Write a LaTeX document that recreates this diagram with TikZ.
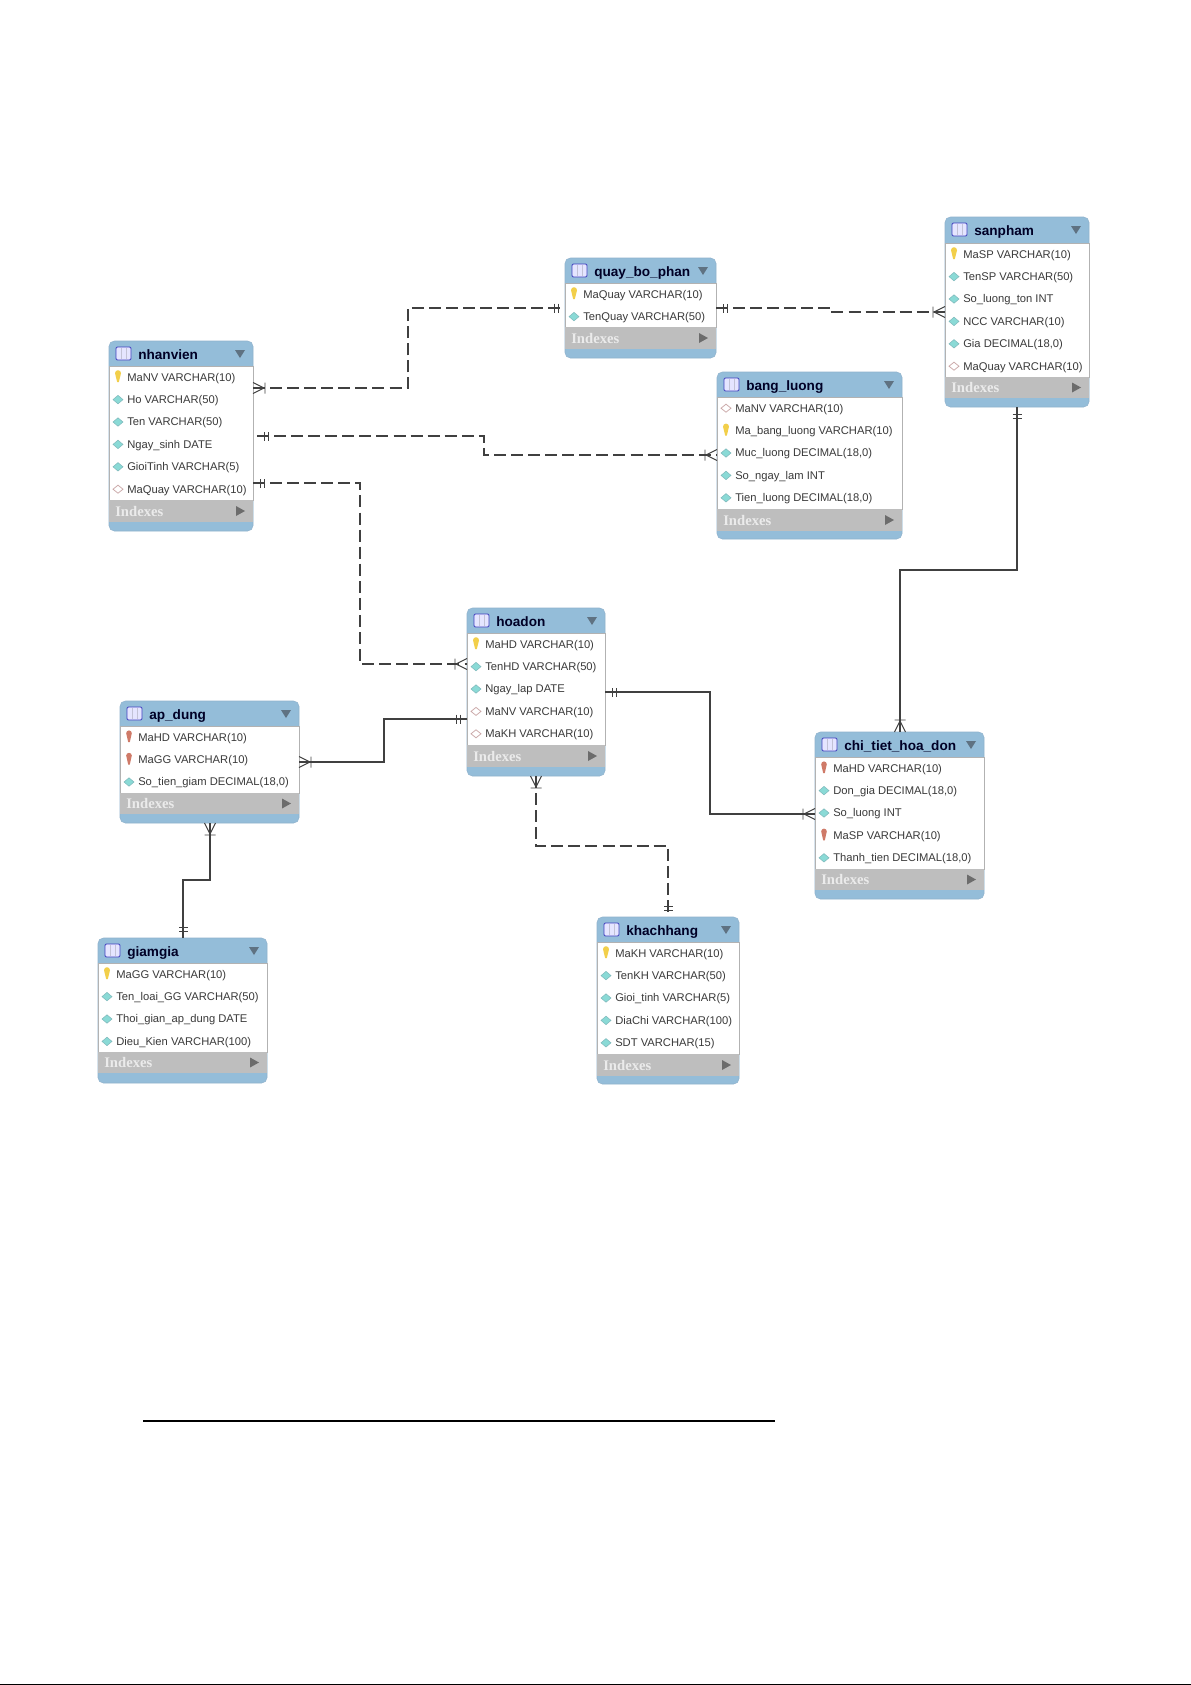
\documentclass[tikz,border=0pt]{standalone}
\usepackage{fontspec}
\setmainfont{Liberation Sans}
\newfontfamily\idxfont{Liberation Serif}
\usetikzlibrary{calc}
\definecolor{hdrblue}{HTML}{94BDD9}
\definecolor{edgeblue}{HTML}{8FB2CC}
\definecolor{idxgrey}{HTML}{BEBEBE}
\definecolor{txtgrey}{HTML}{3A3A3A}
\definecolor{arrowgrey}{HTML}{5F7282}
\definecolor{connink}{HTML}{404040}
\definecolor{keyyellow}{HTML}{F2CF4A}
\definecolor{keyred}{HTML}{CF7A68}
\definecolor{diacyan}{HTML}{8ADAD6}
\definecolor{diaedge}{HTML}{7FB9BC}
\definecolor{diapink}{HTML}{C9A6A6}
\tikzset{
  tblbody/.style={rectangle,rounded corners=4pt,fill=hdrblue,draw=edgeblue,line width=.4pt,inner sep=0pt,outer sep=0pt},
  rowtext/.style={anchor=west,inner sep=0pt,font=\fontsize{8.4pt}{10pt}\selectfont,text=txtgrey,text height=6.2pt,text depth=1.8pt},
  titletext/.style={anchor=west,inner sep=0pt,font=\fontsize{10.2pt}{12pt}\selectfont\bfseries,text=black!85!blue,text height=7.6pt,text depth=2.2pt},
  idxtext/.style={anchor=west,inner sep=0pt,font=\idxfont\fontsize{11pt}{13pt}\selectfont\bfseries,text=white!92!black,text height=7pt,text depth=1pt},
  conn/.style={draw=connink,line width=.85pt},
  fk/.style={conn,dash pattern=on 9pt off 3.8pt},
  endmark/.style={draw=connink,line width=.7pt,solid},
  icok/.pic={\fill[keyyellow] (-3,-4) arc[start angle=180,end angle=360,radius=3] -- (.8,5) -- (-.8,5) -- cycle;},
  icof/.pic={\fill[keyred] (-2.8,-4) arc[start angle=180,end angle=360,radius=2.8] -- (.8,5) -- (-.8,5) -- cycle;},
  icoc/.pic={\filldraw[fill=diacyan,draw=diaedge,line width=.4pt] (-5,0) -- (0,-4.2) -- (5,0) -- (0,4.2) -- cycle;},
  icoe/.pic={\filldraw[fill=white,draw=diapink,line width=.55pt] (-5,0) -- (0,-4) -- (5,0) -- (0,4) -- cycle;},
}
% name, x1, y1, x2, header bottom, rows bottom, indexes bottom, bottom, rows
\newcommand\ertable[9]{
  \node[tblbody,minimum width={(#4-#2)*.75pt},minimum height={(#8-#3)*.75pt}] (#1) at ({(#2+#4)/2},{(#3+#8)/2}) {};
  \filldraw[fill=white,draw=gray!60,line width=.35pt] (#2,#5) rectangle (#4,#6);
  \fill[idxgrey] (#2,#6) rectangle (#4,#7);
  \filldraw[fill=blue!10!white,draw=blue!50!gray,line width=.65pt,rounded corners=1pt] (#2+7,#3+6) rectangle (#2+22,#3+19);
  \draw[blue!20!gray!40!white,line width=.4pt] (#2+12,#3+7) -- (#2+12,#3+18) (#2+17,#3+7) -- (#2+17,#3+18);
  \node[titletext] (#1-title) at (#2+29,#3+14.5) {\detokenize{#1}};
  \fill[arrowgrey] (#4-18,#3+9) -- (#4-8,#3+9) -- (#4-13,#3+17) -- cycle;
  \foreach \k/\t [count=\i] in {#9} {
    \pgfmathsetmacro\ry{#5+(\i-.5)*22.4}
    \pic at (#2+9,\ry) {ico\k};
    \node[rowtext] (#1-row\i) at (#2+18,\ry+1) {\t};
  }
  \node[idxtext] (#1-idx) at (#2+6,{(#6+#7)/2+1}) {Indexes};
  \fill[gray!85!black] (#4-17,{(#6+#7)/2-5}) -- (#4-8,{(#6+#7)/2}) -- (#4-17,{(#6+#7)/2+5}) -- cycle;
}
% crow's foot and double bar: point, direction away from the table
\newcommand\crowend[2]{\begin{scope}[shift={(#1)},rotate=#2]
  \draw[endmark] (0,5.5) -- (11,0) -- (0,-5.5) (12,5.5) -- (12,-5.5);\end{scope}}
\newcommand\barsend[2]{\begin{scope}[shift={(#1)},rotate=#2]
  \draw[endmark] (7,4.5) -- (7,-4.5) (11,4.5) -- (11,-4.5);\end{scope}}
\newcommand\hvh[4]{\coordinate (#2-j) at (#3,0);
  \draw[#1] (#2) -- (#2 -| #2-j) -- (#4 -| #2-j) -- (#4);}
\newcommand\vhv[4]{\coordinate (#2-j) at (0,#3);
  \draw[#1] (#2) -- (#2 |- #2-j) -- (#4 |- #2-j) -- (#4);}
\begin{document}
\begin{tikzpicture}[x=.75pt,y=-.75pt]
\useasboundingbox (0,0) rectangle (1191,1685);
\fill[white] (0,0) rectangle (1191,1685);

\ertable{nhanvien}{109}{341}{253}{366}{500}{522}{531}{k/{MaNV VARCHAR(10)},c/{Ho VARCHAR(50)},c/{Ten VARCHAR(50)},c/{Ngay\_sinh DATE},c/{GioiTinh VARCHAR(5)},e/{MaQuay VARCHAR(10)}}
\ertable{quay_bo_phan}{565}{258}{716}{283}{327}{349}{358}{k/{MaQuay VARCHAR(10)},c/{TenQuay VARCHAR(50)}}
\ertable{sanpham}{945}{217}{1089}{243}{377}{398}{407}{k/{MaSP VARCHAR(10)},c/{TenSP VARCHAR(50)},c/{So\_luong\_ton INT},c/{NCC VARCHAR(10)},c/{Gia DECIMAL(18,0)},e/{MaQuay VARCHAR(10)}}
\ertable{bang_luong}{717}{372}{902}{397}{509}{531}{539}{e/{MaNV VARCHAR(10)},k/{Ma\_bang\_luong VARCHAR(10)},c/{Muc\_luong DECIMAL(18,0)},c/{So\_ngay\_lam INT},c/{Tien\_luong DECIMAL(18,0)}}
\ertable{hoadon}{467}{608}{605}{633}{745}{767}{776}{k/{MaHD VARCHAR(10)},c/{TenHD VARCHAR(50)},c/{Ngay\_lap DATE},e/{MaNV VARCHAR(10)},e/{MaKH VARCHAR(10)}}
\ertable{ap_dung}{120}{701}{299}{726}{793}{814}{823}{f/{MaHD VARCHAR(10)},f/{MaGG VARCHAR(10)},c/{So\_tien\_giam DECIMAL(18,0)}}
\ertable{chi_tiet_hoa_don}{815}{732}{984}{757}{869}{890}{899}{f/{MaHD VARCHAR(10)},c/{Don\_gia DECIMAL(18,0)},c/{So\_luong INT},f/{MaSP VARCHAR(10)},c/{Thanh\_tien DECIMAL(18,0)}}
\ertable{khachhang}{597}{917}{739}{942}{1054}{1076}{1084}{k/{MaKH VARCHAR(10)},c/{TenKH VARCHAR(50)},c/{Gioi\_tinh VARCHAR(5)},c/{DiaChi VARCHAR(100)},c/{SDT VARCHAR(15)}}
\ertable{giamgia}{98}{938}{267}{963}{1052}{1073}{1083}{k/{MaGG VARCHAR(10)},c/{Ten\_loai\_GG VARCHAR(50)},c/{Thoi\_gian\_ap\_dung DATE},c/{Dieu\_Kien VARCHAR(100)}}

% connector end points on the table edges
\coordinate (a1) at ($(nhanvien.north east)+(0,47)$);
\coordinate (b1) at ($(quay_bo_phan.north west)+(0,50)$);
\coordinate (a2) at ($(nhanvien.north east)+(4,95)$);
\coordinate (b2) at ($(bang_luong.north west)+(0,83)$);
\coordinate (a3) at ($(nhanvien.north east)+(0,142)$);
\coordinate (b3) at ($(hoadon.north west)+(0,56)$);
\coordinate (a4) at ($(quay_bo_phan.north east)+(0,50)$);
\coordinate (b4) at ($(sanpham.north west)+(0,95)$);
\coordinate (a5) at ($(sanpham.south west)+(72,0)$);
\coordinate (b5) at ($(chi_tiet_hoa_don.north west)+(85,0)$);
\coordinate (a6) at ($(hoadon.north east)+(0,84)$);
\coordinate (b6) at ($(chi_tiet_hoa_don.north west)+(0,82)$);
\coordinate (a7) at ($(hoadon.north west)+(0,111)$);
\coordinate (b7) at ($(ap_dung.north east)+(0,61)$);
\coordinate (a8) at ($(hoadon.south west)+(69,0)$);
\coordinate (b8) at ($(khachhang.north west)+(71,0)$);
\coordinate (a9) at ($(ap_dung.south west)+(90,0)$);
\coordinate (b9) at ($(giamgia.north west)+(85,0)$);

\hvh{fk}{a1}{408}{b1}   \crowend{a1}{0}   \barsend{b1}{180}
\hvh{fk}{a2}{484}{b2}   \barsend{a2}{0}   \crowend{b2}{180}
\hvh{fk}{a3}{360}{b3}   \barsend{a3}{0}   \crowend{b3}{180}
\hvh{fk}{a4}{831}{b4}   \barsend{a4}{0}   \crowend{b4}{180}
\vhv{conn}{a5}{570}{b5} \barsend{a5}{-90} \crowend{b5}{90}
\hvh{conn}{a6}{710}{b6} \barsend{a6}{0}   \crowend{b6}{180}
\hvh{conn}{a7}{384}{b7} \barsend{a7}{180} \crowend{b7}{0}
\vhv{fk}{a8}{846}{b8}   \crowend{a8}{-90} \barsend{b8}{90}
\vhv{conn}{a9}{880}{b9} \crowend{a9}{-90} \barsend{b9}{90}

% page rules
\coordinate (ruleL) at (143,1420.5);
\coordinate (ruleR) at (775,1420.5);
\draw[black,line width=1.5pt] (ruleL) -- (ruleR);
\coordinate (edgeL) at (0,1684.5);
\coordinate (edgeR) at (1191,1684.5);
\draw[black,line width=.75pt] (edgeL) -- (edgeR);
\end{tikzpicture}
\end{document}
